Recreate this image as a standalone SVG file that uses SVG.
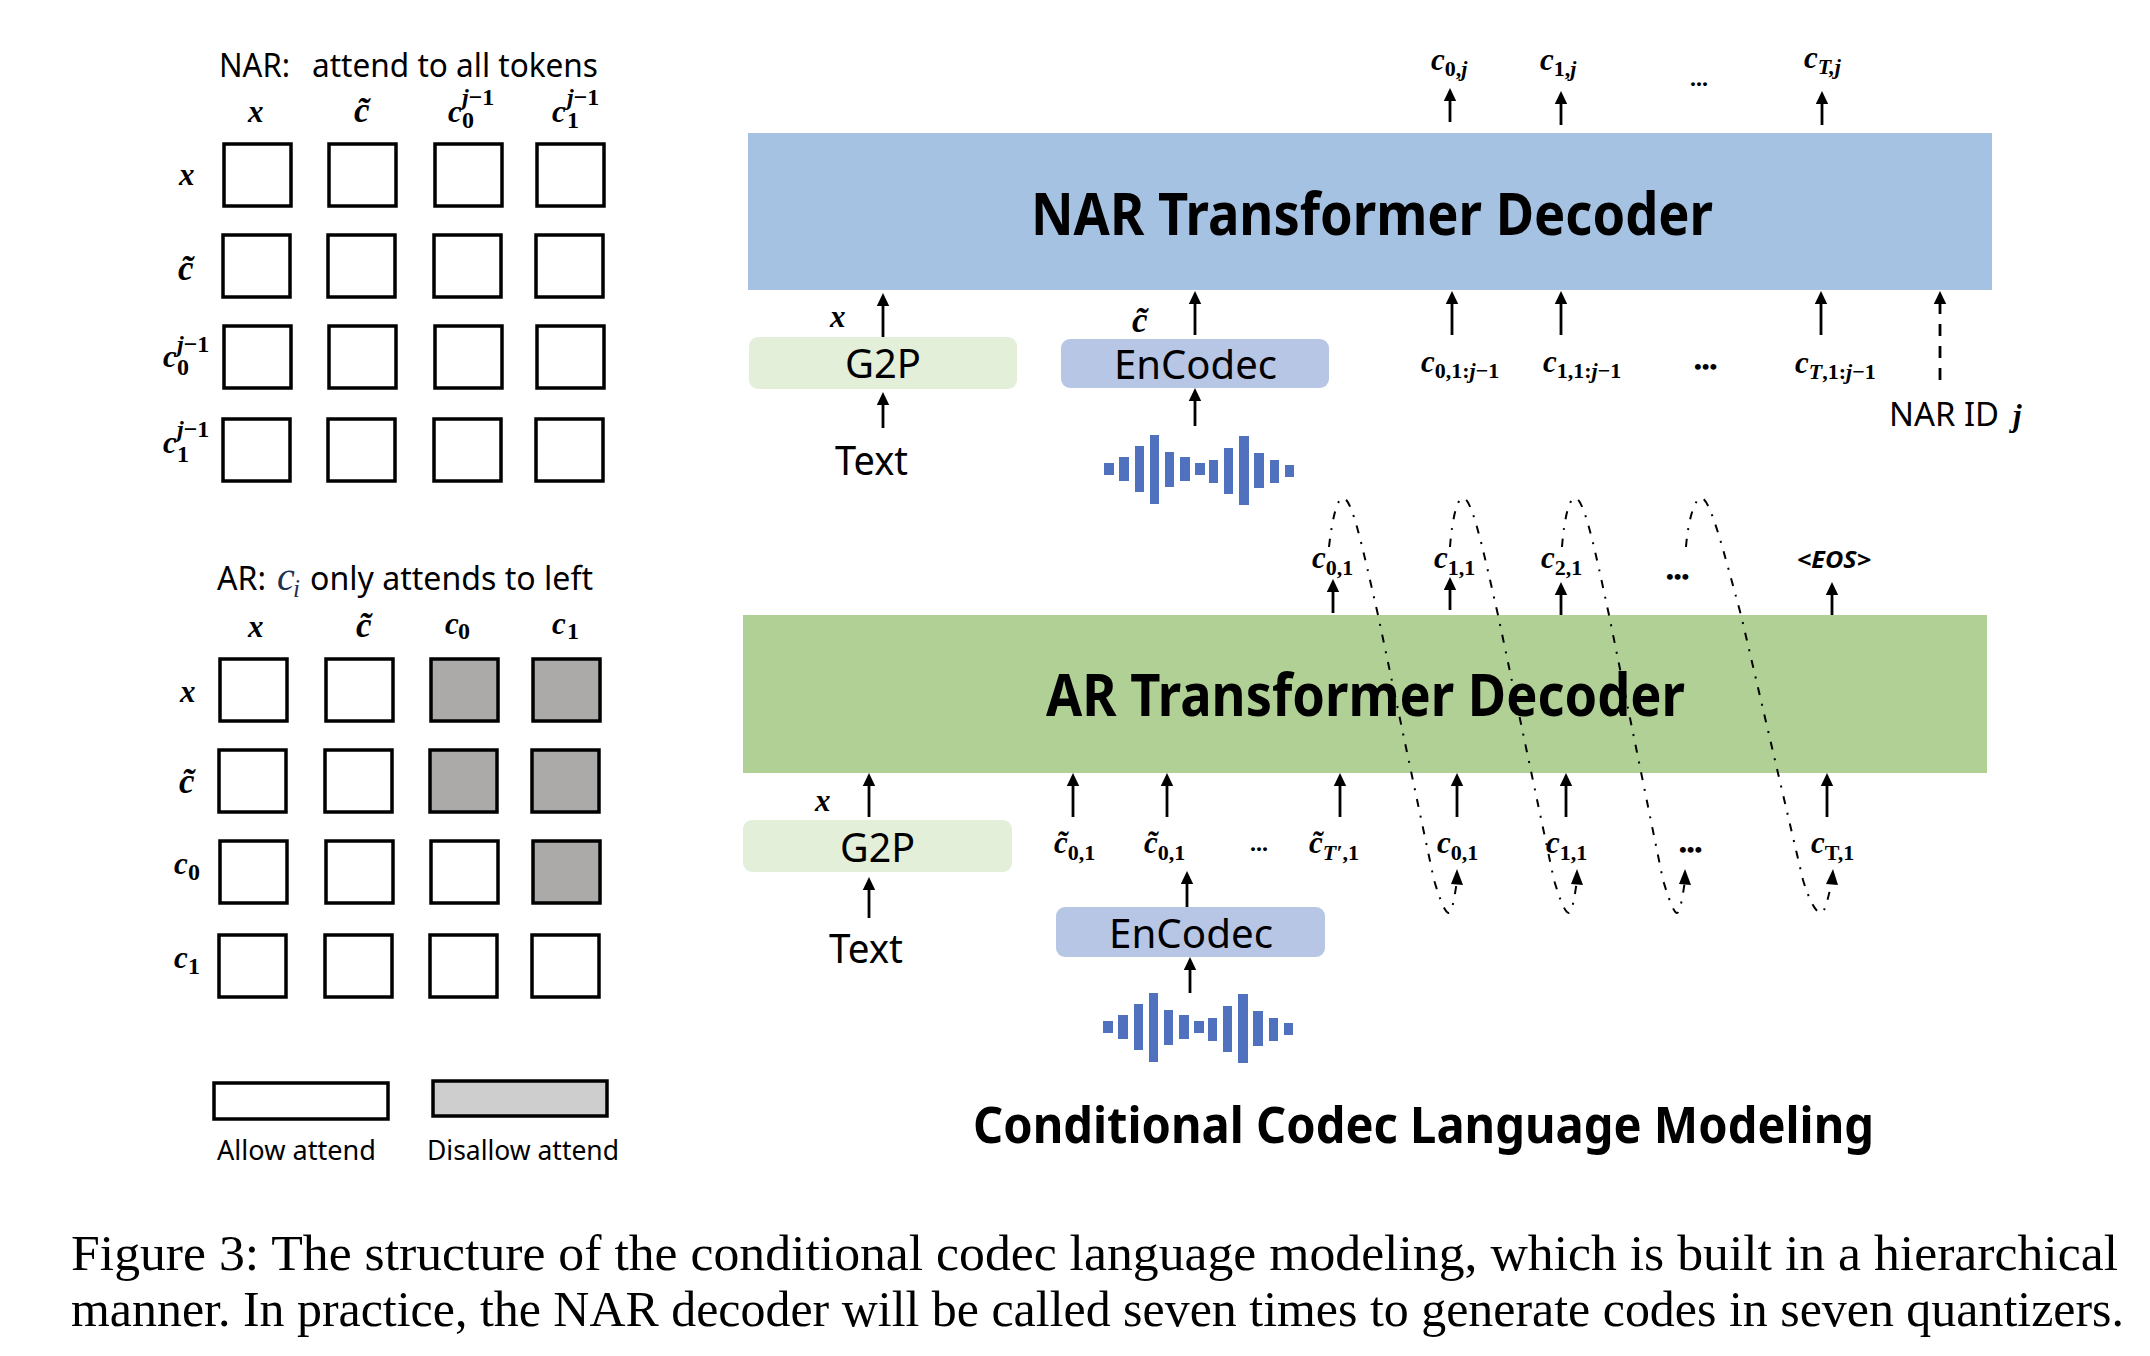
<svg xmlns="http://www.w3.org/2000/svg" width="2150" height="1356" viewBox="0 0 2150 1356">
<style>
text{fill:#000}
.sans{font-family:"Noto Sans","Open Sans","Liberation Sans",sans-serif}
.b{font-weight:700}
.m{font-family:"Liberation Serif",serif;font-style:italic;font-weight:700;font-size:31px}
.t{font-size:35px}
.s{font-size:22px}
.sp{font-size:24px}
.u{font-style:normal}
.eos{font-family:"Noto Sans","Open Sans",sans-serif;font-style:italic;font-weight:700;font-size:24px}
.cap{font-family:"Liberation Serif",serif;font-size:50px}
.c{fill:#fff;stroke:#000;stroke-width:3.5}
.g{fill:#ABAAA8;stroke:#000;stroke-width:3.5}
.w{fill:#4F71BE}
.a{fill:none;stroke:#000;stroke-width:2.8;marker-end:url(#ah)}
.dd{fill:none;stroke:#000;stroke-width:2;stroke-dasharray:8 9 2 9}
</style>
<defs>
<marker id="ah" markerUnits="userSpaceOnUse" markerWidth="16" markerHeight="16" viewBox="0 -7 16 14" refX="3" refY="0" orient="auto"><path d="M0,-6.2 L13,0 L0,6.2 z" fill="#000"/></marker>
<g id="wave">
<rect class="w" x="1104" y="463" width="10" height="12"/><rect class="w" x="1119" y="457" width="10" height="24"/><rect class="w" x="1135" y="446" width="9" height="46"/><rect class="w" x="1150" y="435" width="9" height="69"/><rect class="w" x="1165" y="452" width="9" height="35"/><rect class="w" x="1180" y="457" width="10" height="24"/><rect class="w" x="1195" y="463" width="10" height="12"/><rect class="w" x="1209" y="460" width="9" height="23"/><rect class="w" x="1224" y="448" width="9" height="46"/><rect class="w" x="1239" y="436" width="10" height="69"/><rect class="w" x="1254" y="453" width="10" height="35"/><rect class="w" x="1270" y="460" width="9" height="23"/><rect class="w" x="1285" y="465" width="9" height="12"/>
</g>
</defs>
<rect width="2150" height="1356" fill="#fff"/>

<g id="nar-matrix">
<text class="sans" x="219" y="77" font-size="32" textLength="71" lengthAdjust="spacingAndGlyphs">NAR:</text>
<text class="sans" x="312" y="77" font-size="32" textLength="286" lengthAdjust="spacingAndGlyphs">attend to all tokens</text>
<text class="m" x="248" y="122">x</text>
<text class="m t" x="354" y="122">c̃</text>
<text class="m" x="448" y="122">c</text><text class="m sp" x="462" y="105">j<tspan class="u">−1</tspan></text><text class="m sp u" x="462" y="128">0</text>
<text class="m" x="552" y="122">c</text><text class="m sp" x="567" y="105">j<tspan class="u">−1</tspan></text><text class="m sp u" x="567" y="128">1</text>
<text class="m" x="179" y="185">x</text>
<text class="m t" x="178" y="280">c̃</text>
<text class="m" x="163" y="367">c</text><text class="m sp" x="177" y="352">j<tspan class="u">−1</tspan></text><text class="m sp u" x="177" y="375">0</text>
<text class="m" x="163" y="453">c</text><text class="m sp" x="177" y="437">j<tspan class="u">−1</tspan></text><text class="m sp u" x="177" y="462">1</text>
<rect class="c" x="224" y="144" width="67" height="62"/><rect class="c" x="329" y="144" width="67" height="62"/><rect class="c" x="435" y="144" width="67" height="62"/><rect class="c" x="537" y="144" width="67" height="62"/>
<rect class="c" x="223" y="235" width="67" height="62"/><rect class="c" x="328" y="235" width="67" height="62"/><rect class="c" x="434" y="235" width="67" height="62"/><rect class="c" x="536" y="235" width="67" height="62"/>
<rect class="c" x="224" y="326" width="67" height="62"/><rect class="c" x="329" y="326" width="67" height="62"/><rect class="c" x="435" y="326" width="67" height="62"/><rect class="c" x="537" y="326" width="67" height="62"/>
<rect class="c" x="223" y="419" width="67" height="62"/><rect class="c" x="328" y="419" width="67" height="62"/><rect class="c" x="434" y="419" width="67" height="62"/><rect class="c" x="536" y="419" width="67" height="62"/>
</g>

<g id="ar-matrix">
<text class="sans" x="217" y="590" font-size="32" textLength="49" lengthAdjust="spacingAndGlyphs">AR:</text>
<text x="277" y="590" font-family="Liberation Serif,serif" font-style="italic" font-size="40" style="fill:#20304F">c</text><text x="293" y="597" font-family="Liberation Serif,serif" font-style="italic" font-size="25" style="fill:#20304F">i</text>
<text class="sans" x="310" y="590" font-size="32" textLength="283" lengthAdjust="spacingAndGlyphs">only attends to left</text>
<text class="m" x="248" y="637">x</text>
<text class="m t" x="356" y="637">c̃</text>
<text class="m" x="445" y="634">c</text><text class="m sp u" x="458" y="639">0</text>
<text class="m" x="552" y="634">c</text><text class="m sp u" x="567" y="639">1</text>
<text class="m" x="180" y="702">x</text>
<text class="m t" x="179" y="793">c̃</text>
<text class="m" x="174" y="874">c</text><text class="m sp u" x="188" y="880">0</text>
<text class="m" x="174" y="968">c</text><text class="m sp u" x="188" y="974">1</text>
<rect class="c" x="220" y="659" width="67" height="62"/><rect class="c" x="326" y="659" width="67" height="62"/><rect class="g" x="431" y="659" width="67" height="62"/><rect class="g" x="533" y="659" width="67" height="62"/>
<rect class="c" x="219" y="750" width="67" height="62"/><rect class="c" x="325" y="750" width="67" height="62"/><rect class="g" x="430" y="750" width="67" height="62"/><rect class="g" x="532" y="750" width="67" height="62"/>
<rect class="c" x="220" y="841" width="67" height="62"/><rect class="c" x="326" y="841" width="67" height="62"/><rect class="c" x="431" y="841" width="67" height="62"/><rect class="g" x="533" y="841" width="67" height="62"/>
<rect class="c" x="219" y="935" width="67" height="62"/><rect class="c" x="325" y="935" width="67" height="62"/><rect class="c" x="430" y="935" width="67" height="62"/><rect class="c" x="532" y="935" width="67" height="62"/>
</g>

<g id="legend">
<rect class="c" x="214" y="1083" width="174" height="36"/>
<rect x="433" y="1081" width="174" height="35" fill="#CFCECE" stroke="#000" stroke-width="3.5"/>
<text class="sans" x="217" y="1160" font-size="28" textLength="159" lengthAdjust="spacingAndGlyphs">Allow attend</text>
<text class="sans" x="427" y="1160" font-size="28" textLength="192" lengthAdjust="spacingAndGlyphs">Disallow attend</text>
</g>

<g id="nar-decoder">
<rect x="748" y="133" width="1244" height="157" fill="#A6C2E2"/>
<text class="sans b" x="1031" y="235" font-size="59" textLength="682" lengthAdjust="spacingAndGlyphs">NAR Transformer Decoder</text>
</g>
<g id="nar-g2p">
<rect x="749" y="337" width="268" height="52" rx="9" fill="#E4EFDA"/>
<text class="sans" x="845" y="378" font-size="40" textLength="76" lengthAdjust="spacingAndGlyphs">G2P</text>
</g>
<g id="nar-encodec">
<rect x="1061" y="339" width="268" height="49" rx="9" fill="#B7C6E4"/>
<text class="sans" x="1114" y="379" font-size="40" textLength="163" lengthAdjust="spacingAndGlyphs">EnCodec</text>
</g>
<g id="nar-text"><text class="sans" x="835" y="475" font-size="40" textLength="73" lengthAdjust="spacingAndGlyphs">Text</text></g>
<g id="nar-wave"><use href="#wave"/></g>
<g id="nar-labels">
<text class="m" x="830" y="327">x</text>
<text class="m t" x="1132" y="332">c̃</text>
<text class="m" x="1431" y="70">c<tspan class="s u" dy="6">0,</tspan><tspan class="s">j</tspan></text>
<text class="m" x="1540" y="70">c<tspan class="s u" dy="6">1,</tspan><tspan class="s">j</tspan></text>
<text class="m" x="1804" y="68">c<tspan class="s" dy="6">T,j</tspan></text>
<text class="m sp u" x="1690" y="86">...</text>
<text class="m" x="1421" y="372">c<tspan class="s u" dy="6">0,1:</tspan><tspan class="s">j</tspan><tspan class="s u">−1</tspan></text>
<text class="m" x="1543" y="372">c<tspan class="s u" dy="6">1,1:</tspan><tspan class="s">j</tspan><tspan class="s u">−1</tspan></text>
<text class="m s u" x="1694" y="374">•••</text>
<text class="m" x="1795" y="373">c<tspan class="s" dy="6">T</tspan><tspan class="s u">,1:</tspan><tspan class="s">j</tspan><tspan class="s u">−1</tspan></text>
<text class="sans" x="1889" y="426" font-size="32" textLength="110" lengthAdjust="spacingAndGlyphs">NAR ID</text>
<text class="m" x="2013" y="426">j</text>
</g>

<g id="ar-decoder">
<rect x="743" y="615" width="1244" height="158" fill="#B1D096"/>
<text class="sans b" x="1046" y="716" font-size="59" textLength="639" lengthAdjust="spacingAndGlyphs">AR Transformer Decoder</text>
</g>
<g id="ar-g2p">
<rect x="743" y="820" width="269" height="52" rx="9" fill="#E4EFDA"/>
<text class="sans" x="840" y="862" font-size="40" textLength="75" lengthAdjust="spacingAndGlyphs">G2P</text>
</g>
<g id="ar-encodec">
<rect x="1056" y="907" width="269" height="50" rx="9" fill="#B7C6E4"/>
<text class="sans" x="1109" y="948" font-size="40" textLength="164" lengthAdjust="spacingAndGlyphs">EnCodec</text>
</g>
<g id="ar-text"><text class="sans" x="829" y="963" font-size="40" textLength="74" lengthAdjust="spacingAndGlyphs">Text</text></g>
<g id="ar-wave"><use href="#wave" x="-1" y="558"/></g>
<g id="ar-labels">
<text class="m" x="815" y="811">x</text>
<text class="m" x="1312" y="568">c<tspan class="s u" dy="7">0,1</tspan></text>
<text class="m" x="1434" y="568">c<tspan class="s u" dy="7">1,1</tspan></text>
<text class="m" x="1541" y="568">c<tspan class="s u" dy="7">2,1</tspan></text>
<text class="m s u" x="1666" y="584">•••</text>
<text class="eos" x="1797" y="568" textLength="74" lengthAdjust="spacingAndGlyphs">&lt;EOS&gt;</text>
<text class="m" x="1054" y="853">c̃<tspan class="s u" dy="7">0,1</tspan></text>
<text class="m" x="1144" y="853">c̃<tspan class="s u" dy="7">0,1</tspan></text>
<text class="m sp u" x="1250" y="851">...</text>
<text class="m" x="1309" y="853">c̃<tspan class="s" dy="7">T′</tspan><tspan class="s u">,1</tspan></text>
<text class="m" x="1437" y="853">c<tspan class="s u" dy="7">0,1</tspan></text>
<text class="m" x="1546" y="853">c<tspan class="s u" dy="7">1,1</tspan></text>
<text class="m s u" x="1679" y="857">•••</text>
<text class="m" x="1811" y="853">c<tspan class="s u" dy="7">T,1</tspan></text>
</g>

<g id="connectors">
<path class="a" d="M1450,122V98"/><path class="a" d="M1561,125V101"/><path class="a" d="M1822,125V101"/>
<path class="a" d="M883,337V303"/><path class="a" d="M1195,335V301"/><path class="a" d="M883,428V402"/><path class="a" d="M1195,426V398"/>
<path class="a" d="M1452,335V301"/><path class="a" d="M1561,335V301"/><path class="a" d="M1821,335V301"/>
<path class="a" d="M1940,380V301" stroke-dasharray="12 10"/>
<path class="a" d="M1333,613V589"/><path class="a" d="M1450,610V587"/><path class="a" d="M1561,615V592"/><path class="a" d="M1832,615V592"/>
<path class="a" d="M869,817V783"/><path class="a" d="M1073,817V783"/><path class="a" d="M1167,817V783"/><path class="a" d="M1340,817V783"/>
<path class="a" d="M1457,817V783"/><path class="a" d="M1566,817V783"/><path class="a" d="M1827,817V783"/>
<path class="a" d="M869,918V887"/><path class="a" d="M1187,907V881"/><path class="a" d="M1190,993V967"/>
<path class="dd" d="M1329,547C1332,520 1337,498 1343,498C1352,498 1362,545 1378,615L1434,880C1440,900 1445,913 1449,913C1452,913 1455,895 1457,880"/>
<path class="dd" d="M1450,547C1452,520 1457,498 1463,498C1472,498 1482,545 1498,615L1554,880C1560,900 1565,913 1569,913C1572,913 1575,895 1577,880"/>
<path class="dd" d="M1562,547C1564,520 1569,498 1575,498C1584,498 1594,545 1609,615L1663,880C1669,900 1674,913 1677,913C1680,913 1683,895 1685,880"/>
<path class="dd" d="M1686,547C1688,520 1695,498 1701,498C1710,498 1722,545 1741,615L1803,880C1809,900 1816,913 1821,913C1825,913 1829,895 1832,880"/>
<path d="M1451,884L1457,869L1463,885z"/><path d="M1571,884L1577,869L1583,885z"/><path d="M1679,884L1685,869L1691,885z"/><path d="M1826,884L1833,869L1838,885z"/>
</g>

<g id="title"><text class="sans b" x="973" y="1143" font-size="50" textLength="901" lengthAdjust="spacingAndGlyphs">Conditional Codec Language Modeling</text></g>
<g id="caption">
<text class="cap" x="71" y="1270" textLength="2047" lengthAdjust="spacingAndGlyphs">Figure 3: The structure of the conditional codec language modeling, which is built in a hierarchical</text>
<text class="cap" x="71" y="1326" textLength="2053" lengthAdjust="spacingAndGlyphs">manner. In practice, the NAR decoder will be called seven times to generate codes in seven quantizers.</text>
</g>
</svg>
